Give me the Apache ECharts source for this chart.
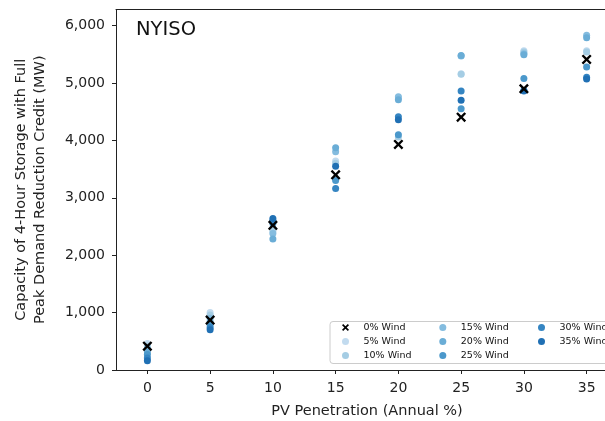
<!DOCTYPE html>
<html>
<head>
<meta charset="utf-8">
<script src="https://cdn.jsdelivr.net/npm/echarts@6/dist/echarts.min.js"></script>
<style>
html,body{margin:0;padding:0;background:#fff;}
#chart{width:605px;height:421px;}
</style>
</head>
<body>
<div id="chart"></div>
<script>
// ---- data ----
const xVals = [0, 5, 10, 15, 20, 25, 30, 35];
const xTicks = [0, 5, 10, 15, 20, 25, 30, 35];
const yTicks = [0, 1000, 2000, 3000, 4000, 5000, 6000];
const seriesNames = ['0% Wind', '5% Wind', '10% Wind', '15% Wind', '20% Wind', '25% Wind', '30% Wind', '35% Wind'];
const wind0  = [415, 870, 2520, 3400, 3930, 4405, 4900, 5410];
const wind5  = [460, 1000, 2480, 3640, 4740, 5160, 5560, 5560];
const wind10 = [420, 960, 2420, 3600, 4060, 5150, 5540, 5540];
const wind15 = [370, 900, 2380, 3800, 4760, 5470, 5510, 5830];
const wind20 = [320, 840, 2280, 3870, 4710, 5480, 5490, 5790];
const wind25 = [270, 790, 2550, 3300, 4100, 4550, 5080, 5280];
const wind30 = [210, 740, 2600, 3160, 4410, 4860, 4870, 5100];
const wind35 = [160, 700, 2640, 3550, 4360, 4700, 4860, 5070];
const allWind = [wind0, wind5, wind10, wind15, wind20, wind25, wind30, wind35];

// ---- styles ----
const colors = ['#000000', '#c2dbef', '#a5cde4', '#84bcdf', '#6aadd6', '#4b98cb', '#3585c2', '#2070b4'];
const xPath = 'path://M2,0 L6,4 L10,0 L12,2 L8,6 L12,10 L10,12 L6,8 L2,12 L0,10 L4,6 L0,2 Z';
const FONT = 'DejaVu Sans';

const series = allWind.map((vals, i) => ({
  name: seriesNames[i],
  type: 'scatter',
  data: xVals.map((x, j) => [x, vals[j]]),
  symbol: i === 0 ? xPath : 'circle',
  symbolSize: i === 0 ? 10 : 7,
  z: i === 0 ? 5 : 2,
  itemStyle: { color: colors[i], opacity: 1 },
  emphasis: { disabled: true },
  animation: false
}));

function legendCol(names, left) {
  return {
    orient: 'vertical',
    left: left,
    top: 320.5,
    padding: 0,
    itemGap: 0,
    itemWidth: 26,
    itemHeight: 7,
    selectedMode: false,
    textStyle: { fontFamily: FONT, fontSize: 9.5, color: '#111', lineHeight: 14, padding: [0,0,0,0] },
    data: names.map(n => ({ name: n, icon: n === '0% Wind' ? xPath : 'circle' }))
  };
}

const chart = echarts.init(document.getElementById('chart'), null, { renderer: 'canvas' });
chart.setOption({
  animation: false,
  backgroundColor: '#fff',
  title: {
    text: 'NYISO',
    left: 131,
    top: 15,
    textStyle: { fontFamily: FONT, fontSize: 19.5, fontWeight: 'normal', color: '#111' }
  },
  graphic: [{
    type: 'rect',
    z: 3,
    shape: { x: 330, y: 321.5, width: 300, height: 42, r: 3 },
    style: { fill: 'rgba(255,255,255,0.85)', stroke: '#cccccc', lineWidth: 1 }
  }],
  legend: [
    legendCol(seriesNames.slice(0, 3), 342),
    legendCol(seriesNames.slice(3, 6), 439.3),
    legendCol(seriesNames.slice(6, 8), 538)
  ],
  grid: {
    left: 116, top: 9.5, width: 502, height: 360.5,
    outerBoundsMode: 'none',
    containLabel: false,
    show: false
  },
  xAxis: [{
    type: 'value',
    min: -2.5, max: 37.5,
    name: 'PV Penetration (Annual %)',
    nameLocation: 'middle',
    nameGap: 34,
    nameTextStyle: { fontFamily: FONT, fontSize: 14.5, color: '#222' },
    axisLine: { show: true, onZero: false, lineStyle: { color: '#222', width: 1 } },
    axisTick: { show: true, length: 4, customValues: xTicks, lineStyle: { color: '#222' } },
    axisLabel: { customValues: xTicks, margin: 11, fontFamily: FONT, fontSize: 14, color: '#222' },
    splitLine: { show: false }
  }, {
    type: 'value',
    position: 'top',
    min: -2.5, max: 37.5,
    axisLine: { show: true, onZero: false, lineStyle: { color: '#222', width: 1 } },
    axisTick: { show: false },
    axisLabel: { show: false },
    splitLine: { show: false }
  }],
  yAxis: {
    type: 'value',
    min: 0, max: 6280,
    name: 'Capacity of 4-Hour Storage with Full\nPeak Demand Reduction Credit (MW)',
    nameLocation: 'middle',
    nameGap: 66,
    nameTextStyle: { fontFamily: FONT, fontSize: 14.5, color: '#222', lineHeight: 19.5 },
    axisLine: { show: true, onZero: false, lineStyle: { color: '#222', width: 1 } },
    axisTick: { show: true, length: 4, customValues: yTicks, lineStyle: { color: '#222' } },
    axisLabel: {
      customValues: yTicks, margin: 11, fontFamily: FONT, fontSize: 14, color: '#222',
      formatter: v => Number(v).toLocaleString('en-US')
    },
    splitLine: { show: false }
  },
  series: series
});
</script>
</body>
</html>
